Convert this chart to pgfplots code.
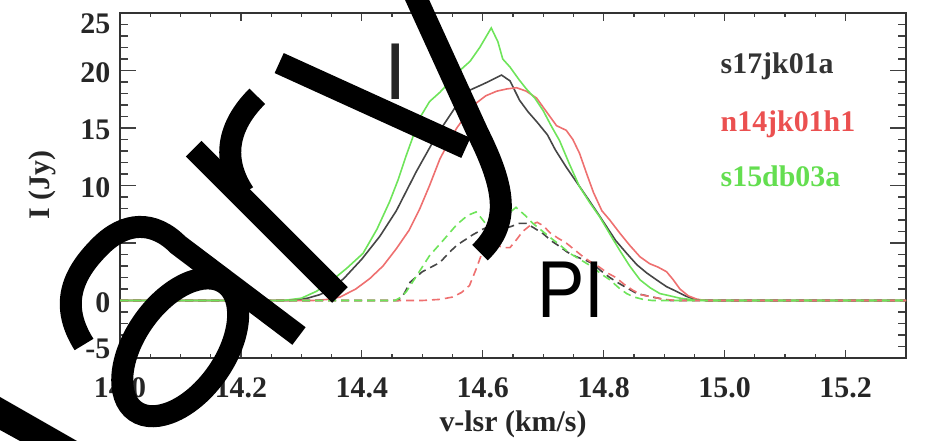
\documentclass[border=0pt]{standalone}
\usepackage{fontspec}
\setmainfont{Liberation Serif}
\newfontfamily\hsans{Liberation Sans}
\usepackage{pgfplots}
\pgfplotsset{compat=1.18}
\definecolor{cblk}{RGB}{70,70,70}
\definecolor{cred}{RGB}{238,112,112}
\definecolor{cgrn}{RGB}{110,228,90}
\definecolor{tred}{RGB}{235,80,80}
\definecolor{tgrn}{RGB}{100,222,80}
\newcommand{\tf}{\fontsize{30}{36}\selectfont\bfseries}
\begin{document}
\begin{tikzpicture}[x=1bp,y=1bp]
\useasboundingbox (0,0) rectangle (929,441);
\begin{axis}[
  at={(120bp,83bp)}, anchor=south west,
  scale only axis, width=786bp, height=345bp,
  xmin=14.0, xmax=15.3, ymin=-5, ymax=25,
  xtick={14.0,14.2,14.4,14.6,14.8,15.0,15.2},
  xticklabels={14.0,14.2,14.4,14.6,14.8,15.0,15.2},
  minor x tick num=3,
  ytick={-5,0,5,10,15,20,25},
  yticklabels={{},0,5,10,15,20,{}},
  minor y tick num=4,
  /pgf/number format/assume math mode=true,
  tick label style={font=\tf, text=black!85},
  xticklabel style={anchor=base, yshift=-40bp},
  yticklabel style={anchor=east, inner sep=0pt, xshift=-9.5bp, yshift=-2bp},
  axis line style={black!80, line width=1.8bp},
  xtick style={black!75, line width=1.2bp, /pgfplots/major tick length=8bp, /pgfplots/minor tick length=4bp},
  ytick style={black!75, line width=1.2bp, /pgfplots/major tick length=16bp, /pgfplots/minor tick length=8bp},
  xlabel={v-lsr (km/s)},
  xlabel style={at={(axis description cs:0.5,0)}, anchor=base, yshift=-74bp, font=\tf, text=black!85},
  ylabel={I (Jy)},
  ylabel style={at={(axis description cs:-0.0903,0.5)}, anchor=base, font=\tf, text=black!85},
  every axis plot/.append style={line width=1.6bp},
]
% solid I curves
\addplot[cblk] coordinates {
(14.00,0) (14.10,0) (14.20,0) (14.28,0) (14.31,0.2) (14.33,0.5) (14.347,0.9) (14.37,1.9)
(14.40,3.6) (14.43,5.6) (14.457,7.8) (14.49,11.2) (14.523,14.3) (14.557,17.0) (14.579,18.3)
(14.60,18.8) (14.612,19.1) (14.631,19.6) (14.645,19.1) (14.661,17.4) (14.675,16.4) (14.69,15.5)
(14.707,14.4) (14.72,13.1) (14.738,11.6) (14.755,10.3) (14.772,9.0) (14.79,7.6) (14.805,6.4)
(14.82,5.2) (14.838,4.1) (14.855,3.1) (14.871,2.4) (14.89,1.7) (14.904,1.2) (14.92,0.8)
(14.935,0.4) (14.95,0.1) (14.97,0) (15.10,0) (15.30,0)};
\addplot[cred] coordinates {
(14.00,0) (14.20,0) (14.32,0) (14.345,0.1) (14.364,0.3) (14.39,1.0) (14.413,1.9) (14.435,3.0)
(14.457,4.5) (14.478,6.1) (14.496,8.0) (14.512,10.0) (14.529,12.3) (14.545,13.9) (14.557,15.0)
(14.575,16.3) (14.59,17.2) (14.605,17.8) (14.623,18.2) (14.64,18.4) (14.656,18.5) (14.672,18.2)
(14.689,17.6) (14.70,16.8) (14.711,16.0) (14.722,15.2) (14.738,14.8) (14.749,14.0) (14.76,12.8)
(14.772,11.0) (14.783,9.4) (14.797,7.8) (14.81,7.0) (14.826,5.9) (14.843,4.8) (14.86,3.8)
(14.876,3.2) (14.89,2.9) (14.904,2.5) (14.915,1.8) (14.926,1.0) (14.94,0.4) (14.955,0.1)
(14.97,0) (15.30,0)};
\addplot[cgrn] coordinates {
(14.00,0) (14.10,0) (14.20,0) (14.27,0) (14.30,0.2) (14.325,0.8) (14.347,1.6) (14.375,2.8)
(14.402,4.1) (14.425,6.2) (14.446,8.6) (14.46,10.5) (14.474,12.7) (14.485,14.3) (14.496,15.9)
(14.512,17.3) (14.529,18.1) (14.545,19.0) (14.56,19.9) (14.579,20.8) (14.595,22.0) (14.614,23.7)
(14.625,22.5) (14.633,21.0) (14.645,20.3) (14.66,19.2) (14.672,18.4) (14.686,17.6) (14.70,16.5)
(14.713,15.2) (14.727,13.9) (14.743,11.9) (14.76,9.9) (14.777,8.5) (14.793,7.3) (14.81,5.8)
(14.826,4.4) (14.843,3.0) (14.86,1.8) (14.877,1.1) (14.893,0.6) (14.91,0.4) (14.926,0.2)
(14.95,0.05) (14.97,0) (15.30,0)};
% dashed PI curves
\addplot[cblk, dash pattern=on 8bp off 5bp] coordinates {
(14.00,0) (14.30,0) (14.46,0) (14.47,0.6) (14.48,1.6) (14.50,2.5) (14.529,3.3) (14.545,4.2)
(14.557,4.8) (14.583,5.7) (14.60,6.2) (14.617,6.6) (14.632,6.3) (14.645,6.4) (14.66,6.7)
(14.672,6.7) (14.685,6.3) (14.70,5.8) (14.713,5.2) (14.727,4.7) (14.74,4.2) (14.755,3.8)
(14.77,3.5) (14.782,3.2) (14.795,2.6) (14.81,2.0) (14.825,1.5) (14.838,1.1) (14.855,0.6)
(14.872,0.4) (14.89,0.2) (14.91,0) (15.30,0)};
\addplot[cred, dash pattern=on 8bp off 5bp] coordinates {
(14.00,0) (14.30,0) (14.50,0) (14.53,0.1) (14.55,0.3) (14.565,0.7) (14.578,1.3) (14.588,2.6)
(14.60,4.3) (14.61,4.8) (14.623,4.8) (14.635,4.6) (14.645,4.6) (14.656,5.3) (14.666,6.0)
(14.68,6.6) (14.69,6.8) (14.70,6.5) (14.711,5.9) (14.725,5.4) (14.738,5.0) (14.752,4.4)
(14.766,3.8) (14.78,3.3) (14.793,2.9) (14.806,2.4) (14.82,2.0) (14.834,1.4) (14.848,0.9)
(14.862,0.5) (14.88,0.3) (14.90,0.1) (14.92,0) (15.30,0)};
\addplot[cgrn, dash pattern=on 8bp off 5bp] coordinates {
(14.00,0) (14.30,0) (14.455,0) (14.465,0.3) (14.474,0.8) (14.49,2.1) (14.512,3.9) (14.534,5.2)
(14.557,6.6) (14.575,7.4) (14.589,7.7) (14.597,7.2) (14.606,6.6) (14.62,6.9) (14.639,7.4)
(14.655,8.1) (14.67,7.4) (14.683,6.7) (14.697,6.1) (14.711,5.5) (14.728,4.8) (14.744,4.1)
(14.763,3.5) (14.782,2.9) (14.796,2.3) (14.81,1.8) (14.825,1.1) (14.838,0.6) (14.85,0.3)
(14.865,0.1) (14.88,0) (15.30,0)};
\end{axis}
% end tick labels shifted inward
\node[anchor=east, inner sep=0pt, font=\tf, text=black!85] at (110.5,417) {25};
\node[anchor=east, inner sep=0pt, font=\tf, text=black!85] at (110.5,92) {-5};
% series names
\node[anchor=base west, inner sep=0pt, font=\tf, text=black!80] at (720.5,367.7) {s17jk01a};
\node[anchor=base west, inner sep=0pt, font=\tf, text=tred] at (720.5,309.3) {n14jk01h1};
\node[anchor=base west, inner sep=0pt, font=\tf, text=tgrn] at (720.5,254.3) {s15db03a};
% annotations
\node[anchor=base, inner sep=0pt, font=\hsans\fontsize{81}{81}\selectfont, text=black!85] at (396,341) {I};
\node[anchor=base, inner sep=0pt, xscale=0.88, font=\hsans\fontsize{81}{81}\selectfont, text=black] at (571,123) {PI};
% overlay watermark strokes
\begin{scope}
\clip (0,0) rectangle (929,441);
\begin{scope}[shift={(340,146)}, rotate=45, line width=22bp, line cap=butt, draw=black]
\draw (0,0) -- (0,207);
\draw (4,140) .. controls (12,180) and (40,199) .. (82,199);
\draw (121,207) -- (193,15);
\draw (284,210) -- (212,17) .. controls (193,-40) and (172,-70) .. (129,-69);
\draw (-216,146) .. controls (-205,195) and (-170,204) .. (-135,204) .. controls (-100,204) and (-79,185) .. (-79,150) -- (-58,0);
\draw[rotate around={10:(-150,76)}] (-150,76) ellipse [x radius=78, y radius=45];
\end{scope}
\fill[black] (0,44) -- (77,0) -- (20,0) -- (0,11) -- cycle;
\end{scope}
\end{tikzpicture}
\end{document}
